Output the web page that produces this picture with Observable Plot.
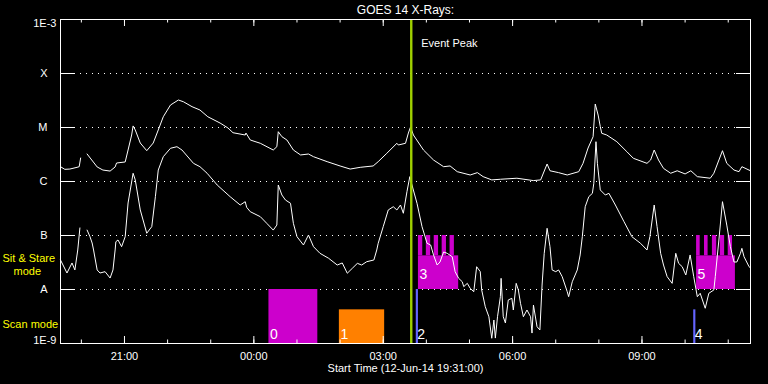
<!DOCTYPE html>
<html><head><meta charset="utf-8">
<script src="https://cdn.jsdelivr.net/npm/d3@7"></script>
<script src="https://cdn.jsdelivr.net/npm/@observablehq/plot@0.6"></script>
<style>
html,body{margin:0;padding:0;background:#000;}
#chart{width:768px;height:384px;overflow:hidden;}
svg{display:block;}
</style></head><body><div id="chart"></div>
<script>
// ---- data (GOES 14, 12-Jun-14 19:31 to 13-Jun-14 11:31 UT) ----
const title = "GOES 14 X-Rays:";
const xLabel = "Start Time (12-Jun-14 19:31:00)";
const xTickLabels = ["21:00","00:00","03:00","06:00","09:00"];
const yTickValues = [1e-9, 1e-8, 1e-7, 1e-6, 1e-5, 1e-4, 1e-3];
const yTickLabels = ["1E-9","A","B","C","M","X","1E-3"];

// 1-8 Angstrom channel (upper curve)
const longTimes = ["19:31","19:37","19:44","19:54","19:57","19:59","20:04","20:08","20:22","20:30","20:40","20:47","20:49","21:01","21:05","21:10","21:12","21:15","21:22","21:31","21:40","21:47","21:54","22:04","22:15","22:22","22:34","22:45","22:56","23:13","23:24","23:31","23:48","23:49","23:55","00:09","00:27","00:32","00:34","00:39","00:46","00:55","01:05","01:16","01:23","01:42","02:00","02:14","02:28","02:46","02:53","03:05","03:19","03:21","03:31","03:35","03:38","03:42","03:56","04:10","04:24","04:33","04:43","05:01","05:11","05:19","05:31","05:43","06:06","06:29","06:39","06:48","06:52","07:04","07:16","07:32","07:38","07:45","07:52","07:55","07:59","08:02","08:04","08:11","08:25","08:39","08:48","09:07","09:12","09:17","09:23","09:30","09:40","09:49","10:00","10:08","10:17","10:35","10:40","10:52","10:58","11:08","11:15","11:19","11:31"];
const longFlux = [1.88e-6,1.68e-6,1.70e-6,1.83e-6,1.88e-6,2.72e-6,null,3.23e-6,1.86e-6,1.63e-6,1.56e-6,1.86e-6,2.20e-6,2.30e-6,3.83e-6,7.26e-6,1.07e-5,9.0e-6,5.16e-6,3.72e-6,5.16e-6,9.0e-6,1.58e-5,2.61e-5,3.23e-5,3.0e-5,2.43e-5,2.11e-5,1.58e-5,1.21e-5,9.8e-6,8.0e-6,7.26e-6,7.9e-6,5.87e-6,5.1e-6,3.83e-6,4.41e-6,8.36e-6,6.76e-6,5.87e-6,3.83e-6,3.10e-6,3.23e-6,2.88e-6,2.33e-6,1.94e-6,1.70e-6,1.83e-6,1.94e-6,2.33e-6,3.33e-6,5.1e-6,4.74e-6,5.1e-6,7.9e-6,1.02e-5,7.26e-6,3.83e-6,2.50e-6,1.88e-6,1.94e-6,1.52e-6,1.32e-6,1.46e-6,1.23e-6,1.07e-6,1.10e-6,1.15e-6,1.04e-6,1.07e-6,2.11e-6,1.58e-6,1.46e-6,1.32e-6,1.52e-6,2.17e-6,4.17e-6,6.76e-6,2.72e-5,1.70e-5,1.04e-5,7.81e-6,7.26e-6,5.46e-6,3.56e-6,2.69e-6,2.17e-6,2.50e-6,3.83e-6,2.50e-6,1.75e-6,1.42e-6,1.58e-6,1.38e-6,1.58e-6,1.23e-6,1.15e-6,1.42e-6,3.72e-6,2.17e-6,1.63e-6,1.52e-6,1.88e-6,1.58e-6];

// 0.5-4 Angstrom channel (lower curve)
const shortTimes = ["19:31","19:40","19:47","19:51","19:55","19:58","20:04","20:08","20:12","20:15","20:17","20:22","20:26","20:33","20:40","20:44","20:47","20:48","20:51","20:56","21:01","21:05","21:12","21:15","21:22","21:31","21:38","21:43","21:47","21:54","22:04","22:13","22:20","22:36","22:45","22:55","23:09","23:27","23:41","23:48","23:50","23:55","00:09","00:18","00:27","00:32","00:34","00:39","00:44","00:51","00:55","01:00","01:09","01:16","01:23","01:32","01:44","01:56","02:03","02:10","02:17","02:24","02:30","02:37","02:47","02:51","02:53","03:00","03:07","03:14","03:19","03:24","03:28","03:33","03:37","03:40","03:47","03:54","04:01","04:06","04:10","04:15","04:19","04:24","04:29","04:36","04:40","04:45","04:50","04:52","04:57","05:01","05:06","05:10","05:15","05:17","05:22","05:27","05:31","05:34","05:36","05:39","05:43","05:44","05:47","05:50","05:54","05:59","06:01","06:05","06:08","06:11","06:15","06:20","06:25","06:27","06:29","06:34","06:38","06:41","06:44","06:48","06:52","06:55","07:00","07:04","07:09","07:16","07:18","07:23","07:30","07:34","07:37","07:41","07:46","07:51","07:53","07:56","07:58","08:02","08:09","08:14","08:23","08:35","08:46","08:58","09:07","09:11","09:17","09:21","09:26","09:30","09:35","09:42","09:47","09:51","09:56","10:01","10:07","10:12","10:17","10:21","10:28","10:33","10:40","10:42","10:47","10:52","10:58","11:03","11:08","11:12","11:17","11:19","11:22","11:29","11:31"];
const shortFlux = [3.52e-8,2.02e-8,3.10e-8,2.30e-8,5.39e-8,1.38e-7,null,1.26e-7,9.5e-8,7.26e-8,5.39e-8,2.30e-8,2.02e-8,2.14e-8,1.63e-8,2.30e-8,5.39e-8,7.67e-8,8.26e-8,6.21e-8,9.5e-8,4.0e-7,1.42e-6,1.07e-6,2.97e-7,1.10e-7,1.46e-7,5.23e-7,1.63e-6,2.88e-6,4.12e-6,4.41e-6,3.83e-6,2.17e-6,1.88e-6,1.42e-6,8.61e-7,5.23e-7,3.67e-7,4.23e-7,3.33e-7,2.76e-7,2.23e-7,1.68e-7,1.26e-7,1.56e-7,8.61e-7,5.62e-7,4.54e-7,3.95e-7,1.68e-7,9.5e-8,6.67e-8,1.02e-7,6.21e-8,4.68e-8,3.79e-8,2.84e-8,3.10e-8,2.0e-8,2.47e-8,3.05e-8,2.84e-8,3.27e-8,3.52e-8,5.39e-8,7.17e-8,1.46e-7,2.97e-7,3.41e-7,2.97e-7,3.67e-7,2.58e-7,6.47e-7,1.23e-6,8.61e-7,3.95e-7,1.46e-7,7.17e-8,6.67e-8,4.36e-8,2.84e-8,3.23e-8,4.95e-8,4.68e-8,4.05e-8,2.14e-8,1.61e-8,1.39e-8,1.13e-8,1.30e-8,1.05e-8,9.1e-9,2.64e-8,2.14e-8,9.8e-9,4.8e-9,3.13e-9,1.25e-9,2.72e-9,1.26e-9,3.13e-9,7.36e-9,1.61e-8,3.13e-9,2.40e-9,6.4e-9,6.87e-9,4.17e-9,1.30e-8,9.8e-9,5.55e-9,3.13e-9,4.17e-9,3.13e-9,1.56e-9,5.16e-9,2.05e-9,1.78e-9,1.21e-8,4.68e-8,1.36e-7,6.21e-8,2.30e-8,2.14e-8,2.30e-8,1.73e-8,9.1e-9,7.36e-9,1.39e-8,2.30e-8,4.36e-8,9.5e-8,3.41e-7,5.23e-7,6.04e-7,9.27e-7,5.46e-6,2.17e-6,6.97e-7,5.62e-7,6.04e-7,3.67e-7,1.80e-7,9.5e-8,7.17e-8,5.39e-8,9.5e-8,3.67e-7,1.46e-7,4.68e-8,2.84e-8,1.73e-8,1.30e-8,4.68e-8,3.05e-8,2.64e-8,1.86e-8,4.36e-8,1.73e-8,7.36e-9,8.5e-9,4.49e-9,8.5e-9,9.8e-9,1.73e-8,8.26e-8,4.23e-7,1.56e-7,6.21e-8,3.23e-8,3.23e-8,4.68e-8,5.79e-8,4.05e-8,2.64e-8,2.50e-8];

const eventPeak = "03:39";

// scan mode observations
const scanIds = ["0","1","2","4"];
const scanStart = ["00:21","01:59","03:46","10:12"];
const scanEnd = ["01:29","03:02","03:49","10:15"];
const scanTop = [1e-8, 4.2e-9, 1e-8, 4.2e-9];
const scanKind = ["raster","wide","narrow","narrow"];

// sit & stare observations
const stareIds = ["3","5"];
const stareStart = ["03:49","10:16"];
const stareEnd = ["04:45","11:10"];
const stareTop = [4.2e-8, 4.2e-8];
const stareBarStart = ["03:49","04:00","04:11","04:22","04:33","10:16","10:27","10:38","10:49","11:00"];
const stareBarEnd = ["03:55","04:06","04:17","04:28","04:39","10:21","10:32","10:44","10:55","11:06"];
const stareBarTop = 1e-7;

// ---- helpers ----
const toDate = s => { const [h, m] = s.split(":").map(Number); return new Date(Date.UTC(2014, 5, h >= 19 ? 12 : 13, h, m)); };
const kindColor = {raster: "#cc00cc", wide: "#ff8000", narrow: "#6464ff"};
const stareColor = "#cc00cc";

const longData = longTimes.map((t, i) => ({t: toDate(t), v: longFlux[i]}));
const shortData = shortTimes.map((t, i) => ({t: toDate(t), v: shortFlux[i]}));
const scan = scanIds.map((id, i) => ({id, s: toDate(scanStart[i]), e: toDate(scanEnd[i]), top: scanTop[i], kind: scanKind[i]}));
const stare = stareIds.map((id, i) => ({id, s: toDate(stareStart[i]), e: toDate(stareEnd[i]), top: stareTop[i]}));
const bars = stareBarStart.map((s, i) => ({s: toDate(s), e: toDate(stareBarEnd[i])}));

const W = 768, H = 384, mL = 60, mR = 18, mT = 19, mB = 41;
const pw = W - mL - mR, ph = H - mT - mB;
const x0 = toDate("19:31"), x1 = toDate("11:31");
const hours = d3.utcHour.range(d3.utcHour.ceil(x0), x1);
const majors = xTickLabels.map(toDate);
const gridLevels = yTickValues.slice(1, -1);
const font = "'Liberation Sans', Arial, sans-serif";

const chart = Plot.plot({
  width: W, height: H,
  marginLeft: mL, marginRight: mR, marginTop: mT, marginBottom: mB,
  style: {background: "#000", color: "#fff", fontFamily: font, fontSize: "11px", overflow: "visible"},
  x: {type: "utc", domain: [x0, x1], axis: null},
  y: {type: "log", domain: [1e-9, 1e-3], axis: null},
  marks: [
    // dotted grid
    Plot.ruleY(gridLevels, {stroke: "#fff", strokeDasharray: "1,5", insetLeft: 14, insetRight: 14}),
    // scan-mode rectangles
    Plot.rect(scan, {x1: "s", x2: "e", y1: () => 1e-9, y2: "top", fill: d => kindColor[d.kind]}),
    // sit & stare
    Plot.rect(stare, {x1: "s", x2: "e", y1: () => 1e-8, y2: "top", fill: stareColor}),
    Plot.rect(bars, {x1: "s", x2: "e", y1: () => 4.2e-8, y2: () => stareBarTop, fill: stareColor}),
    // curves
    Plot.line(longData, {x: "t", y: "v", stroke: "#fff", strokeWidth: 1}),
    Plot.line(shortData, {x: "t", y: "v", stroke: "#fff", strokeWidth: 1}),
    // event peak
    Plot.ruleX([toDate(eventPeak)], {stroke: "#9fd000", strokeWidth: 2.4}),
    Plot.text([toDate(eventPeak)], {x: d => d, text: () => "Event Peak", frameAnchor: "top", lineAnchor: "top", textAnchor: "start", dx: 10, dy: 20, fill: "#fff", fontSize: 11}),
    // mode labels
    Plot.text(scan, {x: "s", y: () => 1e-9, text: "id", textAnchor: "start", lineAnchor: "bottom", dx: 1, dy: -5, fill: "#fff", fontSize: 14}),
    Plot.text(stare, {x: "s", y: () => 1e-8, text: "id", textAnchor: "start", lineAnchor: "bottom", dx: 1, dy: -11, fill: "#fff", fontSize: 14}),
    // frame and ticks
    Plot.frame({stroke: "#fff"}),
    Plot.ruleY(gridLevels, {stroke: "#fff", insetRight: pw - 14}),
    Plot.ruleY(gridLevels, {stroke: "#fff", insetLeft: pw - 14}),
    Plot.ruleX(hours, {stroke: "#fff", insetTop: ph - 3.5}),
    Plot.ruleX(hours, {stroke: "#fff", insetBottom: ph - 3.5}),
    Plot.ruleX(majors, {stroke: "#fff", insetTop: ph - 7}),
    Plot.ruleX(majors, {stroke: "#fff", insetBottom: ph - 7}),
    // y labels
    Plot.text(yTickValues, {filter: (d, i) => yTickLabels[i].length === 1, y: d => d, text: d => yTickLabels[yTickValues.indexOf(d)], frameAnchor: "left", textAnchor: "end", dx: -13, fill: "#fff", fontSize: 11}),
    Plot.text([1e-3], {y: d => d, text: () => yTickLabels[6], frameAnchor: "left", textAnchor: "end", dx: -4, dy: 4, fill: "#fff", fontSize: 11}),
    Plot.text([1e-9], {y: d => d, text: () => yTickLabels[0], frameAnchor: "left", textAnchor: "end", dx: -4, dy: -3, fill: "#fff", fontSize: 11}),
    // x tick labels
    Plot.text(majors, {x: d => d, text: (d, i) => xTickLabels[i], frameAnchor: "bottom", lineAnchor: "top", dy: 9, fill: "#fff", fontSize: 11}),
    // x label and title
    Plot.text([xLabel], {text: d => d, frameAnchor: "bottom", lineAnchor: "top", dy: 21, fill: "#fff", fontSize: 11, letterSpacing: "0.4px"}),
    Plot.text([title], {text: d => d, frameAnchor: "top", lineAnchor: "top", dy: -14, fill: "#fff", fontSize: 12, letterSpacing: "0.9px"}),
    // mode names on the left
    Plot.text(["Sit & Stare"], {text: d => d, y: () => 1e-8, frameAnchor: "left", textAnchor: "start", dx: -58, dy: -31, fill: "#ffff00", fontSize: 11, letterSpacing: "1px"}),
    Plot.text(["mode"], {text: d => d, y: () => 1e-8, frameAnchor: "left", textAnchor: "start", dx: -47, dy: -18, fill: "#ffff00", fontSize: 11, letterSpacing: "1px"}),
    Plot.text(["Scan mode"], {text: d => d, y: () => 1e-9, frameAnchor: "left", textAnchor: "start", dx: -58, dy: -19, fill: "#ffff00", fontSize: 11, letterSpacing: "0.8px"})
  ]
});
document.getElementById("chart").appendChild(chart);
</script></body></html>
